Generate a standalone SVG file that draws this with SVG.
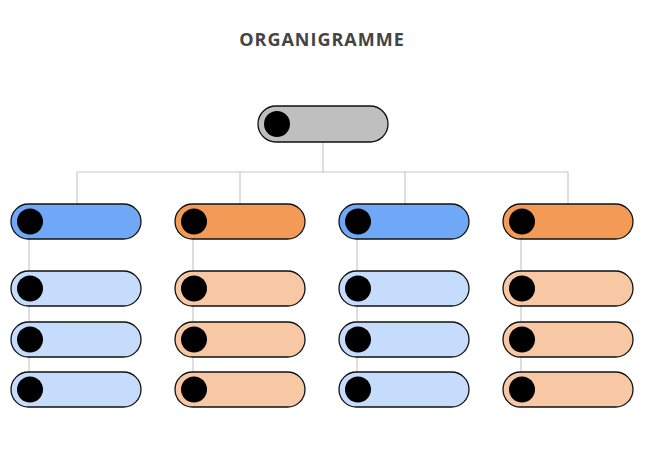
<svg xmlns="http://www.w3.org/2000/svg" width="650" height="450" viewBox="0 0 650 450">
<style>
.b{stroke:#111;stroke-width:1.3}
.c{fill:#000}
.l{stroke:#c8c8c8;stroke-width:1.2;fill:none}
.t{font-family:"Open Sans",sans-serif;font-weight:700;font-size:18px;fill:#444;letter-spacing:1px}
</style>
<rect width="650" height="450" fill="#fff"/>
<text class="t" x="322" y="46" text-anchor="middle">ORGANIGRAMME</text>
<g id="connectors" class="l">
<path d="M323 142V172M77 172H568M77 172V204M240 172V204M405 172V204M568 172V204"/>
<path d="M29 239V390M193 239V390M357 239V390M521 239V390"/>
</g>
<g id="root"><rect class="b" x="258" y="106" width="130" height="36" rx="18" fill="#bfbfbf"/><circle class="c" cx="277" cy="124" r="13"/></g>
<g id="n1"><rect class="b" x="11" y="204" width="130" height="35" rx="17.5" fill="#6ea8f7"/><circle class="c" cx="30" cy="221.5" r="13"/></g>
<g id="n2"><rect class="b" x="175" y="204" width="130" height="35" rx="17.5" fill="#f29a56"/><circle class="c" cx="194" cy="221.5" r="13"/></g>
<g id="n3"><rect class="b" x="339" y="204" width="130" height="35" rx="17.5" fill="#6ea8f7"/><circle class="c" cx="358" cy="221.5" r="13"/></g>
<g id="n4"><rect class="b" x="503" y="204" width="130" height="35" rx="17.5" fill="#f29a56"/><circle class="c" cx="522" cy="221.5" r="13"/></g>
<g id="n1a"><rect class="b" x="11" y="271" width="130" height="35" rx="17.5" fill="#c5dcfc"/><circle class="c" cx="30" cy="288.5" r="13"/></g>
<g id="n1b"><rect class="b" x="11" y="322" width="130" height="35" rx="17.5" fill="#c5dcfc"/><circle class="c" cx="30" cy="339.5" r="13"/></g>
<g id="n1c"><rect class="b" x="11" y="372" width="130" height="35" rx="17.5" fill="#c5dcfc"/><circle class="c" cx="30" cy="389.5" r="13"/></g>
<g id="n2a"><rect class="b" x="175" y="271" width="130" height="35" rx="17.5" fill="#f7c8a3"/><circle class="c" cx="194" cy="288.5" r="13"/></g>
<g id="n2b"><rect class="b" x="175" y="322" width="130" height="35" rx="17.5" fill="#f7c8a3"/><circle class="c" cx="194" cy="339.5" r="13"/></g>
<g id="n2c"><rect class="b" x="175" y="372" width="130" height="35" rx="17.5" fill="#f7c8a3"/><circle class="c" cx="194" cy="389.5" r="13"/></g>
<g id="n3a"><rect class="b" x="339" y="271" width="130" height="35" rx="17.5" fill="#c5dcfc"/><circle class="c" cx="358" cy="288.5" r="13"/></g>
<g id="n3b"><rect class="b" x="339" y="322" width="130" height="35" rx="17.5" fill="#c5dcfc"/><circle class="c" cx="358" cy="339.5" r="13"/></g>
<g id="n3c"><rect class="b" x="339" y="372" width="130" height="35" rx="17.5" fill="#c5dcfc"/><circle class="c" cx="358" cy="389.5" r="13"/></g>
<g id="n4a"><rect class="b" x="503" y="271" width="130" height="35" rx="17.5" fill="#f7c8a3"/><circle class="c" cx="522" cy="288.5" r="13"/></g>
<g id="n4b"><rect class="b" x="503" y="322" width="130" height="35" rx="17.5" fill="#f7c8a3"/><circle class="c" cx="522" cy="339.5" r="13"/></g>
<g id="n4c"><rect class="b" x="503" y="372" width="130" height="35" rx="17.5" fill="#f7c8a3"/><circle class="c" cx="522" cy="389.5" r="13"/></g>
</svg>
